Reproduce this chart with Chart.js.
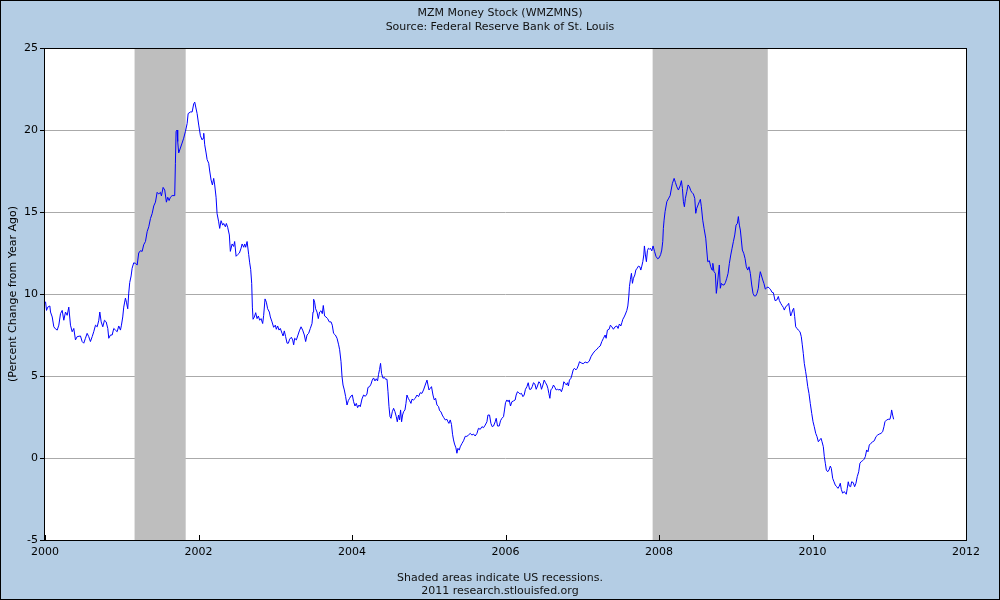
<!DOCTYPE html>
<html>
<head>
<meta charset="utf-8">
<script src="https://cdn.jsdelivr.net/npm/chart.js@4/dist/chart.umd.min.js"></script>
<style>
  html, body { margin: 0; padding: 0; background: #b4cde4; }
  #wrap { position: relative; width: 1000px; height: 600px; background: #b4cde4; overflow: hidden; }
  #frame { position: absolute; left: 0; top: 0; width: 1000px; height: 600px; box-sizing: border-box; border: 1px solid #000; pointer-events: none; }
  .txt { position: absolute; left: 0; width: 1000px; text-align: center; font: 11px "DejaVu Sans", Verdana, sans-serif; line-height: 13px; color: #111; white-space: nowrap; }
  canvas { position: absolute; left: 0; top: 0; }
</style>
</head>
<body>
<div id="wrap">
  <canvas id="c" width="1000" height="600"></canvas>
  <div class="txt" style="top:6px">MZM Money Stock (WMZMNS)</div>
  <div class="txt" style="top:20px">Source: Federal Reserve Bank of St. Louis</div>
  <div class="txt" style="top:571px">Shaded areas indicate US recessions.</div>
  <div class="txt" style="top:584px">2011 research.stlouisfed.org</div>
  <div id="frame"></div>
</div>
<script>
// Decimal-year dates of the weekly observations (sampled) and the values (% change from year ago)
const dates = [
2000.007,2000.020,2000.036,2000.063,2000.072,2000.094,2000.115,2000.137,2000.159,2000.180,
2000.202,2000.224,2000.245,2000.267,2000.289,2000.310,2000.332,2000.354,2000.375,2000.397,
2000.419,2000.462,2000.484,2000.505,2000.527,2000.549,2000.570,2000.592,2000.615,2000.635,
2000.658,2000.680,2000.701,2000.714,2000.732,2000.753,2000.775,2000.797,2000.818,2000.831,
2000.853,2000.875,2000.896,2000.918,2000.940,2000.961,2000.983,2000.996,2001.013,2001.026,
2001.048,2001.061,2001.078,2001.091,2001.104,2001.122,2001.135,2001.156,2001.178,2001.201,
2001.221,2001.243,2001.266,2001.286,2001.309,2001.331,2001.352,2001.374,2001.396,2001.417,
2001.439,2001.461,2001.482,2001.504,2001.517,2001.539,2001.560,2001.582,2001.599,2001.617,
2001.634,2001.656,2001.690,2001.699,2001.708,2001.721,2001.729,2001.742,2001.764,2001.786,
2001.807,2001.829,2001.852,2001.865,2001.895,2001.917,2001.938,2001.951,2001.964,2001.982,
2002.003,2002.025,2002.047,2002.060,2002.068,2002.081,2002.099,2002.112,2002.133,2002.146,
2002.164,2002.181,2002.198,2002.211,2002.229,2002.242,2002.263,2002.276,2002.294,2002.315,
2002.328,2002.350,2002.363,2002.380,2002.402,2002.415,2002.438,2002.458,2002.471,2002.490,
2002.510,2002.533,2002.555,2002.568,2002.589,2002.602,2002.615,2002.633,2002.654,2002.667,
2002.680,2002.693,2002.702,2002.711,2002.728,2002.745,2002.763,2002.780,2002.797,2002.815,
2002.836,2002.849,2002.867,2002.884,2002.901,2002.923,2002.936,2002.958,2002.979,2003.001,
2003.014,2003.031,2003.049,2003.066,2003.089,2003.102,2003.118,2003.135,2003.154,2003.171,
2003.188,2003.210,2003.227,2003.240,2003.253,2003.275,2003.292,2003.314,2003.336,2003.357,
2003.379,2003.396,2003.414,2003.435,2003.457,2003.479,2003.492,2003.500,2003.513,2003.526,
2003.544,2003.561,2003.578,2003.596,2003.613,2003.626,2003.643,2003.661,2003.682,2003.704,
2003.727,2003.743,2003.760,2003.783,2003.805,2003.826,2003.839,2003.857,2003.870,2003.883,
2003.900,2003.917,2003.935,2003.952,2003.969,2003.987,2004.004,2004.021,2004.039,2004.056,
2004.073,2004.091,2004.108,2004.130,2004.151,2004.173,2004.195,2004.208,2004.229,2004.247,
2004.264,2004.281,2004.299,2004.316,2004.333,2004.346,2004.359,2004.372,2004.385,2004.404,
2004.421,2004.438,2004.456,2004.469,2004.482,2004.495,2004.508,2004.525,2004.542,2004.560,
2004.577,2004.590,2004.607,2004.620,2004.633,2004.646,2004.659,2004.672,2004.690,2004.703,
2004.716,2004.733,2004.750,2004.768,2004.781,2004.802,2004.824,2004.846,2004.867,2004.889,
2004.911,2004.932,2004.954,2004.977,2004.990,2005.003,2005.020,2005.036,2005.055,2005.072,
2005.089,2005.107,2005.128,2005.141,2005.159,2005.176,2005.193,2005.215,2005.237,2005.250,
2005.263,2005.280,2005.296,2005.310,2005.323,2005.336,2005.354,2005.367,2005.380,2005.397,
2005.410,2005.432,2005.453,2005.475,2005.497,2005.518,2005.540,2005.563,2005.583,2005.605,
2005.628,2005.648,2005.671,2005.693,2005.714,2005.736,2005.758,2005.771,2005.792,2005.810,
2005.827,2005.844,2005.866,2005.879,2005.896,2005.918,2005.935,2005.953,2005.974,2005.987,
2006.000,2006.018,2006.035,2006.048,2006.065,2006.083,2006.104,2006.126,2006.139,2006.156,
2006.174,2006.191,2006.208,2006.227,2006.243,2006.260,2006.279,2006.296,2006.313,2006.331,
2006.348,2006.365,2006.383,2006.400,2006.417,2006.435,2006.452,2006.469,2006.487,2006.504,
2006.521,2006.539,2006.552,2006.565,2006.578,2006.591,2006.608,2006.625,2006.643,2006.660,
2006.677,2006.695,2006.712,2006.729,2006.747,2006.760,2006.777,2006.794,2006.807,2006.820,
2006.833,2006.852,2006.865,2006.882,2006.898,2006.917,2006.934,2006.951,2006.964,2006.986,
2007.012,2007.038,2007.064,2007.090,2007.116,2007.143,2007.169,2007.191,2007.211,2007.234,
2007.255,2007.276,2007.298,2007.311,2007.328,2007.350,2007.367,2007.385,2007.406,2007.428,
2007.451,2007.467,2007.484,2007.503,2007.516,2007.529,2007.546,2007.563,2007.581,2007.594,
2007.607,2007.615,2007.628,2007.641,2007.654,2007.667,2007.685,2007.698,2007.715,2007.732,
2007.750,2007.763,2007.776,2007.789,2007.802,2007.810,2007.823,2007.836,2007.849,2007.862,
2007.875,2007.888,2007.906,2007.923,2007.943,2007.960,2007.982,2008.001,2008.021,2008.036,
2008.049,2008.057,2008.066,2008.079,2008.102,2008.122,2008.145,2008.158,2008.175,2008.197,
2008.214,2008.232,2008.253,2008.275,2008.292,2008.305,2008.318,2008.331,2008.344,2008.362,
2008.379,2008.396,2008.414,2008.431,2008.448,2008.466,2008.479,2008.492,2008.509,2008.526,
2008.539,2008.552,2008.570,2008.587,2008.609,2008.622,2008.635,2008.656,2008.674,2008.691,
2008.701,2008.717,2008.734,2008.747,2008.760,2008.773,2008.786,2008.799,2008.813,2008.831,
2008.848,2008.865,2008.883,2008.900,2008.917,2008.935,2008.952,2008.969,2008.987,2009.004,
2009.021,2009.034,2009.047,2009.060,2009.073,2009.086,2009.104,2009.121,2009.138,2009.156,
2009.173,2009.190,2009.208,2009.225,2009.242,2009.260,2009.277,2009.294,2009.307,2009.320,
2009.333,2009.352,2009.368,2009.385,2009.404,2009.421,2009.438,2009.456,2009.473,2009.490,
2009.512,2009.534,2009.555,2009.568,2009.586,2009.603,2009.620,2009.633,2009.651,2009.672,
2009.690,2009.703,2009.716,2009.729,2009.742,2009.755,2009.768,2009.781,2009.798,2009.815,
2009.837,2009.854,2009.867,2009.880,2009.893,2009.911,2009.924,2009.938,2009.954,2009.971,
2009.990,2010.007,2010.023,2010.042,2010.059,2010.076,2010.094,2010.111,2010.124,2010.141,
2010.154,2010.167,2010.180,2010.198,2010.215,2010.232,2010.245,2010.263,2010.280,2010.297,
2010.315,2010.332,2010.349,2010.362,2010.375,2010.393,2010.410,2010.427,2010.440,2010.453,
2010.466,2010.479,2010.497,2010.510,2010.531,2010.549,2010.566,2010.583,2010.602,2010.618,
2010.635,2010.654,2010.671,2010.688,2010.706,2010.723,2010.740,2010.762,2010.784,2010.805,
2010.827,2010.849,2010.870,2010.892,2010.914,2010.931,2010.944,2010.966,2010.987,2011.009,
2011.022,2011.031,2011.044,2011.057
];
const values = [
9.53,9.0,9.2,9.27,8.9,8.6,8.0,7.87,7.8,8.1,
8.8,9.0,8.4,8.9,8.7,9.2,8.1,7.7,7.9,7.2,
7.4,7.44,7.1,7.0,7.3,7.6,7.4,7.1,7.4,7.7,
8.1,8.0,8.4,8.9,8.3,8.0,8.4,8.3,7.9,7.3,
7.5,7.5,7.9,7.8,7.7,8.05,7.8,8.1,8.6,9.2,
9.75,9.5,9.1,10.05,10.7,11.1,11.57,11.9,11.87,11.77,
12.5,12.64,12.6,13.0,13.2,13.8,14.1,14.6,14.9,15.37,
15.6,16.2,16.1,16.2,15.98,16.5,16.34,15.6,15.9,15.7,
15.9,16.0,16.0,17.97,19.9,20.0,19.3,18.6,18.9,19.2,
19.5,19.9,20.4,21.0,21.1,21.1,21.6,21.7,21.4,21.0,
20.3,19.65,19.4,19.5,19.8,19.1,18.6,18.2,17.97,17.5,
16.95,16.65,17.05,16.65,15.9,14.9,14.4,14.0,14.47,14.2,
14.3,14.1,14.3,14.07,13.6,12.6,13.05,12.9,13.2,12.3,
12.4,12.5,12.8,13.05,12.85,13.05,12.85,13.2,12.4,11.9,
11.5,10.65,9.2,8.46,8.6,8.86,8.5,8.66,8.4,8.5,
8.2,8.7,9.7,9.5,9.1,8.9,8.6,8.3,7.97,8.1,
7.85,8.05,7.8,7.9,7.6,7.44,7.75,7.4,7.0,7.0,
7.25,7.36,7.2,6.9,7.3,7.2,7.44,7.75,8.0,7.8,
7.5,7.1,7.5,7.6,7.9,8.2,8.9,9.68,9.5,9.1,
8.9,8.5,8.9,8.98,8.8,9.3,8.66,8.6,8.5,8.3,
8.3,8.1,7.6,7.5,7.3,6.9,6.6,5.87,4.96,4.45,
4.15,3.74,3.23,3.5,3.64,3.78,3.84,3.43,3.17,3.33,
3.07,3.23,3.13,3.6,3.84,3.76,3.9,4.3,4.35,4.5,
4.75,4.88,4.7,4.83,4.7,5.1,5.4,5.77,5.16,4.86,
4.92,4.8,4.8,4.04,3.13,2.52,2.42,2.82,3.03,2.82,
2.52,2.21,2.62,2.32,2.93,2.21,2.62,2.82,2.93,3.33,
3.84,3.64,3.5,3.33,3.58,3.54,3.64,3.84,3.74,3.98,
3.94,4.15,4.45,4.75,4.45,4.15,4.25,4.35,3.84,3.54,
3.64,3.23,3.13,2.89,2.82,2.62,2.48,2.32,2.36,2.21,
2.11,2.32,2.05,1.45,1.1,0.85,0.62,0.29,0.59,0.48,
0.68,0.88,1.05,1.32,1.32,1.4,1.5,1.4,1.46,1.34,
1.5,1.81,1.75,1.91,1.85,2.01,2.21,2.62,2.62,2.11,
1.91,1.95,2.21,2.42,1.95,1.95,2.27,2.42,2.52,2.93,
3.37,3.54,3.43,3.54,3.17,3.43,3.48,3.54,3.84,4.04,
3.98,3.9,3.94,3.74,3.84,4.19,4.35,4.59,4.19,4.19,
4.35,4.59,4.51,4.19,4.39,4.65,4.55,4.19,4.45,4.75,
4.59,4.45,4.25,3.94,3.64,4.15,4.25,4.45,4.31,4.15,
4.19,4.15,4.19,4.04,4.31,4.65,4.55,4.45,4.59,4.39,
4.75,4.86,5.06,5.37,5.47,5.37,5.47,5.67,5.87,5.8,
5.75,5.85,5.8,5.9,6.2,6.4,6.55,6.63,6.75,6.83,
7.1,7.3,7.5,7.3,7.8,7.85,8.1,8.0,7.85,8.0,
8.05,7.9,8.17,8.05,8.25,8.46,8.6,8.78,9.0,9.27,
9.88,10.45,10.9,11.26,10.65,10.96,11.16,11.46,11.57,11.7,
11.66,11.46,11.7,11.97,12.38,12.93,12.38,11.97,12.64,12.79,
12.73,12.79,12.63,12.93,12.58,12.3,12.15,12.2,12.4,12.68,
13.2,14.0,14.5,15.02,15.63,15.8,16.0,16.34,16.75,17.05,
16.8,16.54,16.34,16.59,16.91,16.44,15.63,15.32,15.83,16.24,
16.65,16.54,16.3,16.18,16.1,15.83,14.92,15.23,15.43,15.63,
15.77,15.32,14.5,14.0,13.4,12.68,11.97,12.03,11.66,11.46,
11.87,11.36,11.26,10.04,10.55,11.16,11.77,10.35,10.65,10.55,
10.55,10.69,10.96,11.26,11.87,12.38,12.79,13.19,13.6,14.2,
14.3,14.72,14.2,13.9,13.29,12.68,12.48,12.17,11.66,11.46,
11.66,11.26,10.55,10.04,9.88,9.88,10.04,10.35,10.96,11.36,
11.16,10.85,10.63,10.3,10.38,10.43,10.35,10.25,10.1,10.08,
9.6,9.63,9.85,9.6,9.43,9.3,9.18,9.02,9.23,9.3,
9.43,9.02,8.66,8.82,9.02,9.13,8.62,8.0,7.9,7.8,
7.7,7.4,6.9,6.38,5.77,5.26,4.86,4.35,3.94,3.33,
2.72,2.21,1.91,1.5,1.3,0.99,1.1,1.2,0.99,0.69,
0.08,-0.32,-0.73,-0.84,-0.73,-0.49,-0.63,-1.24,-1.45,-1.65,
-1.75,-1.85,-1.71,-1.54,-1.91,-2.15,-2.05,-2.11,-2.21,-1.85,
-1.45,-1.71,-1.75,-1.45,-1.5,-1.75,-1.54,-1.14,-0.84,-0.32,
-0.22,-0.16,-0.08,0.08,0.49,0.38,0.79,0.9,0.99,1.05,
1.3,1.4,1.46,1.5,1.6,1.91,2.21,2.32,2.36,2.36,
2.62,2.93,2.62,2.36
];
// US recessions (decimal years)
const recessionStarts = [2001.167, 2007.917];
const recessionEnds   = [2001.833, 2009.417];
// Axis ticks
const xTickValues = [2000, 2002, 2004, 2006, 2008, 2010, 2012];
const yTickValues = [-5, 0, 5, 10, 15, 20, 25];

const seriesPoints = dates.map((d, i) => ({ x: d, y: values[i] }));
const FONT = { family: '"DejaVu Sans", Verdana, sans-serif', size: 11 };

const recessionPlugin = {
  id: 'recessions',
  beforeDraw(chart) {
    const { ctx, chartArea } = chart;
    ctx.save();
    ctx.fillStyle = '#ffffff';
    ctx.fillRect(chartArea.left, chartArea.top, chartArea.right - chartArea.left, chartArea.bottom - chartArea.top);
    ctx.restore();
  },
  beforeDatasetsDraw(chart) {
    const { ctx, chartArea, scales } = chart;
    ctx.save();
    ctx.fillStyle = '#bebebe';
    for (let i = 0; i < recessionStarts.length; i++) {
      const x1 = scales.x.getPixelForValue(recessionStarts[i]);
      const x2 = scales.x.getPixelForValue(recessionEnds[i]);
      ctx.fillRect(x1, chartArea.top, x2 - x1, chartArea.bottom - chartArea.top);
    }
    ctx.restore();
  },
  afterDraw(chart) {
    const { ctx, chartArea, scales } = chart;
    ctx.save();
    ctx.strokeStyle = '#000';
    ctx.lineWidth = 1;
    // inside tick marks on the time axis
    ctx.beginPath();
    xTickValues.forEach(v => {
      const x = Math.round(scales.x.getPixelForValue(v)) + 0.5;
      ctx.moveTo(x, chartArea.bottom);
      ctx.lineTo(x, chartArea.bottom - 5);
    });
    ctx.stroke();
    // plot frame
    ctx.strokeRect(Math.round(chartArea.left) - 0.5, Math.round(chartArea.top) + 0.5,
      Math.round(chartArea.right - chartArea.left) + 1, Math.round(chartArea.bottom - chartArea.top));
    ctx.restore();
  }
};

new Chart(document.getElementById('c'), {
  type: 'line',
  data: {
    datasets: [{
      data: seriesPoints,
      borderColor: '#0000ff',
      borderWidth: 1,
      pointRadius: 0,
      tension: 0,
      fill: false
    }]
  },
  options: {
    responsive: false,
    animation: false,
    layout: { padding: { left: 0, right: 34, top: 48, bottom: 0 } },
    plugins: { legend: { display: false }, tooltip: { enabled: false }, title: { display: false } },
    scales: {
      x: {
        type: 'linear',
        min: 2000, max: 2012,
        afterFit(s) { s.height = 60; },
        afterBuildTicks(s) { s.ticks = xTickValues.map(v => ({ value: v })); },
        grid: { display: false, drawTicks: false },
        border: { display: false },
        ticks: { font: FONT, color: '#000', padding: 6, maxRotation: 0, autoSkip: false, callback: v => String(v) }
      },
      y: {
        min: -5, max: 25,
        afterFit(s) { s.width = 45; },
        afterBuildTicks(s) { s.ticks = yTickValues.map(v => ({ value: v })); },
        grid: { color: '#aaaaaa', tickColor: '#000', tickLength: 5, lineWidth: 1 },
        border: { display: false },
        ticks: { font: FONT, color: '#000', padding: 2, callback: v => String(v) },
        title: { display: true, text: '(Percent Change from Year Ago)', font: FONT, color: '#000', padding: { top: 7, bottom: 0 } }
      }
    }
  },
  plugins: [recessionPlugin]
});
</script>
</body>
</html>
